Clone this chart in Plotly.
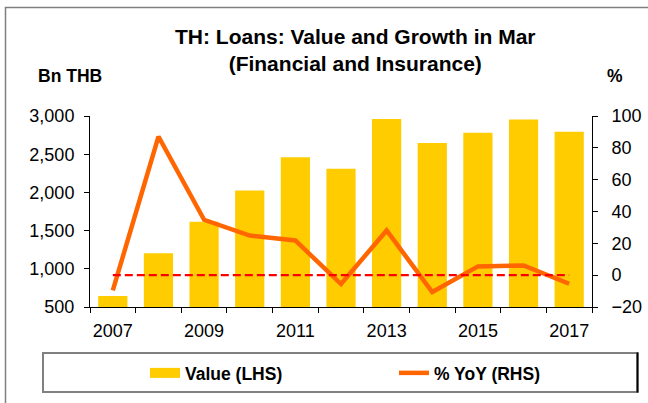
import plotly.graph_objects as go

# Loans to the financial and insurance sector, March of each year
years = [2007, 2008, 2009, 2010, 2011, 2012, 2013, 2014, 2015, 2016, 2017]
value_bn_thb = [645, 1205, 1615, 2025, 2460, 2310, 2960, 2645, 2780, 2955, 2795]
yoy_pct = [-9.6, 87.1, 34.8, 24.9, 21.8, -5.6, 28.1, -10.6, 5.5, 6.1, -5.4]
zero_ref = [0, 0]

left_ticks = [500, 1000, 1500, 2000, 2500, 3000]
right_ticks = [-20, 0, 20, 40, 60, 80, 100]
x_labels = [2007, 2009, 2011, 2013, 2015, 2017]

FONT = "Liberation Sans, Arial, sans-serif"
YELLOW = "#FFCC00"
ORANGE = "#FF6600"
RED = "#FF0000"

fig = go.Figure()

fig.add_trace(go.Bar(
    x=years, y=value_bn_thb, name="Value (LHS)",
    marker=dict(color=YELLOW, line=dict(width=0)),
    width=0.64, yaxis="y", showlegend=False,
))
# legend swatch for the bars (wide flat block)
fig.add_trace(go.Scatter(
    x=[None], y=[None], mode="lines", name="Value (LHS)",
    line=dict(color=YELLOW, width=11), yaxis="y", showlegend=True,
))
fig.add_trace(go.Scatter(
    x=years, y=yoy_pct, mode="lines", name="% YoY (RHS)",
    line=dict(color=ORANGE, width=4.5), yaxis="y2",
))
fig.add_trace(go.Scatter(
    x=[years[0], years[-1]], y=zero_ref, mode="lines", showlegend=False,
    line=dict(color=RED, width=2.2, dash="8px,4px"), yaxis="y2",
    hoverinfo="skip",
))

# pixel helpers for paper/container-referenced decorations
L, R, T, B = 90, 56, 116, 96
W, H = 648, 403
PW, PH = W - L - R, H - T - B


def px_x(px):
    return (px - L) / PW


def px_y(py):
    return (H - B - py) / PH


shapes = [
    # outer frame
    dict(type="rect", xref="paper", yref="paper",
         x0=px_x(5.5), x1=px_x(680), y0=px_y(440), y1=px_y(7.5),
         line=dict(color="#7F7F7F", width=1.5), fillcolor="rgba(0,0,0,0)"),
    # legend box
    dict(type="rect", xref="paper", yref="paper",
         x0=px_x(43), x1=px_x(637.5), y0=px_y(392), y1=px_y(353),
         line=dict(color="#808080", width=2), fillcolor="rgba(0,0,0,0)"),
    dict(type="line", xref="paper", yref="paper",
         x0=px_x(637.5), x1=px_x(637.5), y0=px_y(392.5), y1=px_y(352.5),
         line=dict(color="#000000", width=2)),
]

annotations = [
    dict(text="<b>TH: Loans: Value and Growth in Mar<br>(Financial and Insurance)</b>",
         xref="paper", yref="paper", x=px_x(355), y=px_y(49.5),
         xanchor="center", yanchor="middle", align="center", showarrow=False,
         font=dict(family=FONT, size=21, color="black")),
    dict(text="<b>Bn THB</b>", xref="paper", yref="paper",
         x=px_x(69.5), y=px_y(76), xanchor="center", yanchor="middle",
         showarrow=False, font=dict(family=FONT, size=17.5, color="black")),
    dict(text="<b>%</b>", xref="paper", yref="paper",
         x=px_x(615), y=px_y(76), xanchor="center", yanchor="middle",
         showarrow=False, font=dict(family=FONT, size=17.5, color="black")),
]

fig.update_layout(
    width=W, height=H,
    margin=dict(l=L, r=R, t=T, b=B, autoexpand=False),
    paper_bgcolor="white", plot_bgcolor="white",
    font=dict(family=FONT, size=18, color="black"),
    xaxis=dict(
        range=[2006.5, 2017.5], tickvals=x_labels,
        ticktext=[str(v) for v in x_labels],
        ticks="", showline=True, linecolor="black", linewidth=1,
        showgrid=False, zeroline=False, ticklabelstandoff=7,
        tickfont=dict(family=FONT, size=18),
        minor=dict(tickvals=[y - 0.5 for y in years] + [years[-1] + 0.5],
                   ticks="outside", ticklen=5, tickcolor="black", showgrid=False),
    ),
    yaxis=dict(
        range=[500, 3000], tickvals=left_ticks, tickformat=",",
        ticks="outside", ticklen=5, tickcolor="black",
        showline=True, linecolor="black", linewidth=1,
        showgrid=False, zeroline=False, ticklabelstandoff=6,
        tickfont=dict(family=FONT, size=18),
    ),
    yaxis2=dict(
        range=[-20, 100], tickvals=right_ticks, overlaying="y", side="right",
        ticks="outside", ticklen=5, tickcolor="black",
        showline=True, linecolor="black", linewidth=1,
        showgrid=False, zeroline=False, ticklabelstandoff=10,
        tickfont=dict(family=FONT, size=18),
    ),
    legend=dict(
        orientation="h", xref="container", yref="container",
        x=145 / W, xanchor="left", y=(H - 373) / H, yanchor="middle",
        bgcolor="rgba(0,0,0,0)", borderwidth=0,
        entrywidth=204, entrywidthmode="pixels",
        font=dict(family=FONT, size=17.5, color="black", weight="bold"),
    ),
    shapes=shapes,
    annotations=annotations,
    bargap=0.36,
)

fig.write_html("out.html")
